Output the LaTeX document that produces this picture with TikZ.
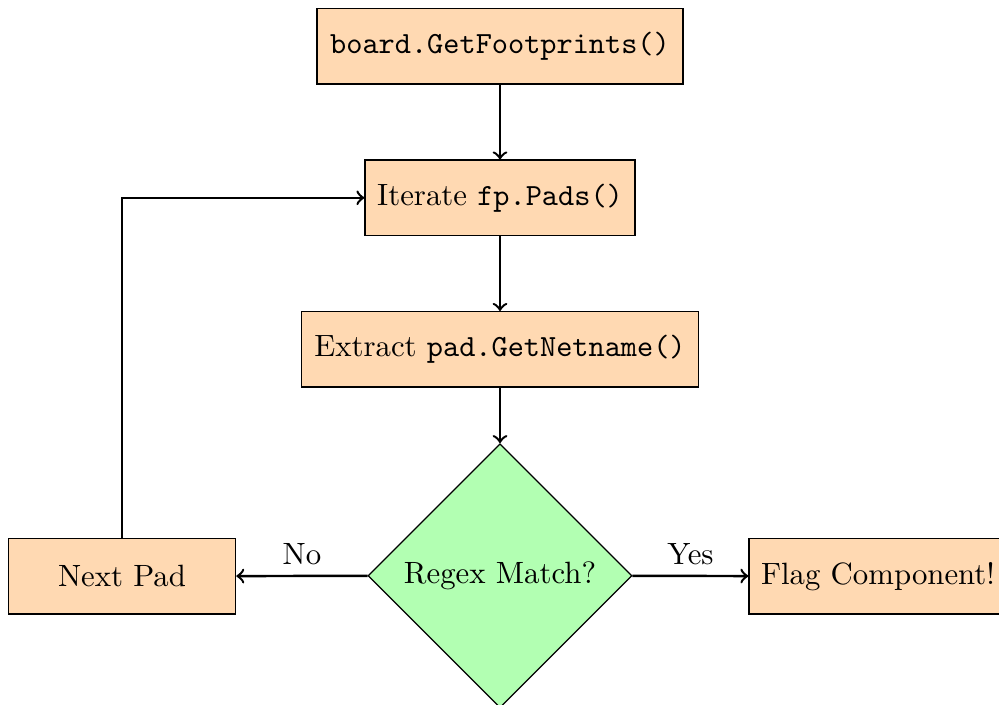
\documentclass[tikz,border=0pt]{standalone}
\usetikzlibrary{shapes.geometric}
\newcommand{\pxu}{0.3247pt}
\begin{document}
\begin{tikzpicture}[x=0.3247pt,y=-0.3247pt,
  box/.style={rectangle,draw=black,fill=orange!30,line width=0.4pt,
              minimum height=75.5*\pxu,inner sep=0pt},
  choice/.style={diamond,draw=black,fill=green!30,line width=0.4pt,aspect=1,
              minimum width=264*\pxu,minimum height=264*\pxu,inner sep=0pt},
  flow/.style={->,thick}]
  \useasboundingbox (0,0) rectangle (999,704);

  % main column
  \node[box,minimum width=366*\pxu] (start) at (500,46.2) {\texttt{board.GetFootprints()}};
  \node[box,minimum width=270*\pxu] (iter) at (500,197.8) {Iterate \texttt{fp.Pads()}};
  \node[box,minimum width=397.3*\pxu] (extract) at (500,349.3) {Extract \texttt{pad.GetNetname()}};
  \node[choice] (match) at (500,575.7) {Regex Match?};

  % branches
  \node[box,minimum width=227.4*\pxu] (next) at (122,576.2) {Next Pad};
  \node[box,minimum width=258*\pxu] (flag) at (878,576.2) {Flag Component!};

  % connectors
  \draw[flow] (start) -- (iter);
  \draw[flow] (iter) -- (extract);
  \draw[flow] (extract) -- (match);
  \draw[flow] (match) -- node[above] {No} (next);
  \draw[flow] (match) -- node[above] {Yes} (flag);
  \draw[flow] (next.north) |- (iter.west);
\end{tikzpicture}
\end{document}
